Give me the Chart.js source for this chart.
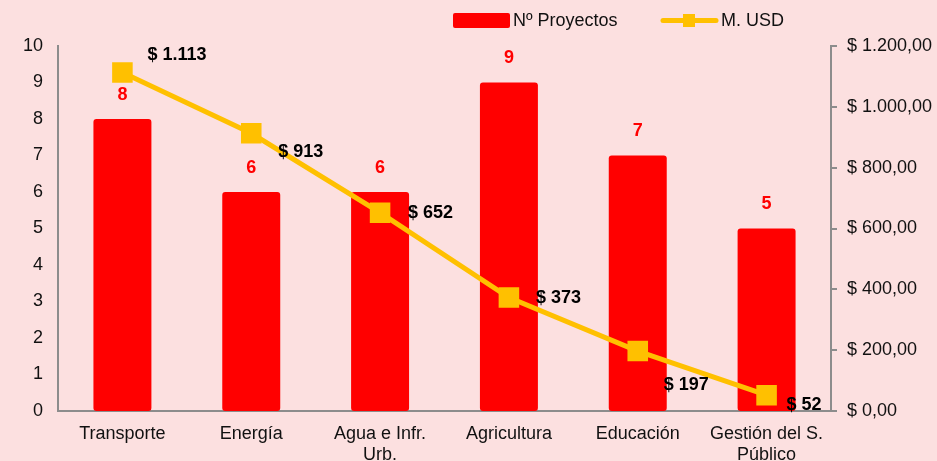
<!DOCTYPE html>
<html>
<head>
<meta charset="utf-8">
<script src="https://cdn.jsdelivr.net/npm/chart.js"></script>
<style>
  html, body { margin: 0; padding: 0; background: #fce0e0; overflow: hidden; }
  #wrap { position: relative; width: 937px; height: 461px; }
</style>
</head>
<body>
<div id="wrap"><canvas id="sectorChart" width="937" height="461"></canvas></div>
<script>
// datos
const categorias = ["Transporte", "Energía", ["Agua e Infr.", "Urb."], "Agricultura", "Educación", ["Gestión del S.", "Público"]];
const proyectos = [8, 6, 6, 9, 7, 5];
const montoUSD = [1113, 913, 652, 373, 197, 52];
const ticksIzq = [0, 1, 2, 3, 4, 5, 6, 7, 8, 9, 10];
const ticksDer = [0, 200, 400, 600, 800, 1000, 1200];

const ROJO = "#ff0000";
const AMARILLO = "#ffc000";
const GRIS = "#8c8c8c";
const FUENTE = "'Liberation Sans', Arial, sans-serif";

Chart.defaults.font.family = FUENTE;
Chart.defaults.font.size = 18;
Chart.defaults.color = "#111";

function fmtMiles(v, dec) {
    const partes = v.toFixed(dec).split(".");
    const ent = partes[0].replace(/\B(?=(\d{3})+(?!\d))/g, ".");
    return partes.length > 1 ? ent + "," + partes[1] : ent;
}

// etiquetas de datos (barras en rojo, línea en negro)
const etiquetasPlugin = {
    id: "etiquetas",
    afterDatasetsDraw(chart, args, opts) {
        const ctx = chart.ctx;
        ctx.save();
        ctx.font = "bold 18px " + FUENTE;
        // barras
        const barras = chart.getDatasetMeta(0).data;
        ctx.fillStyle = ROJO;
        ctx.textAlign = "center";
        ctx.textBaseline = "middle";
        barras.forEach((b, i) => {
            ctx.fillText(String(proyectos[i]), b.x, b.y - 24);
        });
        // línea
        const puntos = chart.getDatasetMeta(1).data;
        ctx.fillStyle = "#000";
        ctx.textAlign = "left";
        puntos.forEach((p, i) => {
            ctx.fillText("$ " + fmtMiles(montoUSD[i], 0), p.x + opts.dx[i], p.y + opts.dy[i]);
        });
        ctx.restore();
    }
};

// leyenda dibujada a mano arriba a la derecha
const leyendaPlugin = {
    id: "leyenda",
    afterDraw(chart) {
        const ctx = chart.ctx;
        ctx.save();
        ctx.font = "18px " + FUENTE;
        ctx.textBaseline = "middle";
        ctx.fillStyle = ROJO;
        ctx.beginPath();
        ctx.roundRect(453, 13, 57, 15, 2);
        ctx.fill();
        ctx.fillStyle = "#111";
        ctx.fillText("Nº Proyectos", 513, 21);
        ctx.strokeStyle = AMARILLO;
        ctx.lineWidth = 5;
        ctx.lineCap = "round";
        ctx.beginPath();
        ctx.moveTo(663, 20.5);
        ctx.lineTo(716, 20.5);
        ctx.stroke();
        ctx.fillStyle = AMARILLO;
        ctx.fillRect(683, 14, 12, 13);
        ctx.fillStyle = "#111";
        ctx.fillText("M. USD", 721, 21);
        ctx.restore();
    }
};

new Chart(document.getElementById("sectorChart"), {
    data: {
        labels: categorias,
        datasets: [
            {
                type: "bar",
                label: "Nº Proyectos",
                data: proyectos,
                backgroundColor: ROJO,
                borderRadius: 3,
                borderSkipped: false,
                barPercentage: 0.45,
                categoryPercentage: 1,
                yAxisID: "y",
                order: 2
            },
            {
                type: "line",
                label: "M. USD",
                data: montoUSD,
                borderColor: AMARILLO,
                backgroundColor: AMARILLO,
                borderWidth: 5,
                pointStyle: "rect",
                pointRadius: 11,
                pointHoverRadius: 11,
                tension: 0,
                yAxisID: "y1",
                order: 1
            }
        ]
    },
    options: {
        responsive: false,
        animation: false,
        devicePixelRatio: 1,
        layout: { padding: { top: 46 } },
        plugins: {
            legend: { display: false },
            tooltip: { enabled: false },
            etiquetas: {
                dx: [25, 27, 28, 27, 26, 20],
                dy: [-17, 19, 0, 0, 34, 10]
            }
        },
        scales: {
            x: {
                grid: { display: false, drawTicks: false },
                border: { color: GRIS, width: 2 },
                ticks: { padding: 12, color: "#111", font: { size: 18, lineHeight: 1.2 }, maxRotation: 0, autoSkip: false },
                afterFit(s) { s.height = 50; }
            },
            y: {
                position: "left",
                min: 0,
                max: 10,
                afterBuildTicks(s) { s.ticks = ticksIzq.map(v => ({ value: v })); },
                grid: { display: false, drawTicks: false },
                border: { color: GRIS, width: 2 },
                ticks: { padding: 15, color: "#111", font: { size: 18 } },
                afterFit(s) { s.width = 58; }
            },
            y1: {
                position: "right",
                min: 0,
                max: 1200,
                afterBuildTicks(s) { s.ticks = ticksDer.map(v => ({ value: v })); },
                grid: { drawOnChartArea: false, color: GRIS, lineWidth: 2, tickLength: 6 },
                border: { color: GRIS, width: 2 },
                ticks: {
                    padding: 10,
                    color: "#111",
                    font: { size: 18 },
                    callback: v => "$ " + fmtMiles(v, 2)
                },
                afterFit(s) { s.width = 106; }
            }
        }
    },
    plugins: [etiquetasPlugin, leyendaPlugin]
});
</script>
</body>
</html>
